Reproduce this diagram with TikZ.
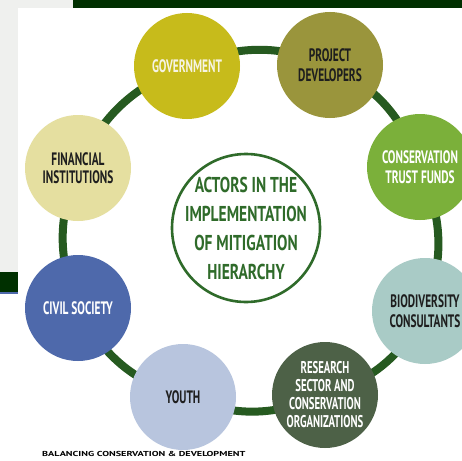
\documentclass[tikz,border=0pt]{standalone}
\usepackage{fontspec}
\usetikzlibrary{backgrounds}
\newfontfamily\cond[FakeStretch=0.63]{PT Sans}
\newfontfamily\hubfont[FakeStretch=0.72]{PT Sans}
\newfontfamily\foot[FakeStretch=1.42]{PT Sans}
\definecolor{greyc}{HTML}{EFF0EE}
\definecolor{bandc}{HTML}{003000}
\definecolor{ringc}{HTML}{265A20}
\definecolor{hubc}{HTML}{2F6B2A}
\definecolor{govc}{HTML}{C7BB1B}
\definecolor{projc}{HTML}{9A953C}
\definecolor{consc}{HTML}{7BB03A}
\definecolor{bioc}{HTML}{A9CBC6}
\definecolor{resc}{HTML}{4D6147}
\definecolor{youthc}{HTML}{B8C5DE}
\definecolor{civc}{HTML}{4E69AB}
\definecolor{finc}{HTML}{E5DFA0}
\definecolor{darktext}{HTML}{1E1E1E}
\definecolor{lighttext}{HTML}{F6F4E4}
\begin{document}
\begin{tikzpicture}[x=1pt,y=1pt,
  actor/.style={circle, minimum size=106pt, inner sep=-20pt, align=center,
    font=\cond\bfseries\fontsize{18}{20}\selectfont},
  ringline/.style={line width=8pt, draw=ringc},
  hubstyle/.style={circle, draw=hubc, line width=2.6pt, fill=white, minimum size=148pt,
    inner sep=-40pt, align=center, text=hubc,
    font=\hubfont\bfseries\fontsize{21.5}{29}\selectfont},
  footstyle/.style={inner sep=0pt, anchor=west, text=black,
    font=\foot\bfseries\fontsize{7.2}{8}\selectfont}
]
\useasboundingbox (0,0) rectangle (462,-460);
\clip (0,0) rectangle (462,-460);

\node[actor, fill=govc, text=lighttext] (gov) at (187,-66) {GOVERNMENT};
\node[actor, fill=projc, text=darktext] (proj) at (330,-65) {PROJECT\\DEVELOPERS};
\node[actor, fill=consc, text=white] (cons) at (420,-167) {CONSERVATION\\TRUST FUNDS};
\node[actor, fill=bioc, text=darktext] (bio) at (425,-311) {BIODIVERSITY\\CONSULTANTS};
\node[actor, fill=resc, text=white, font=\cond\bfseries\fontsize{17}{18}\selectfont] (res) at (325,-395) {RESEARCH\\SECTOR AND\\CONSERVATION\\ORGANIZATIONS};
\node[actor, fill=youthc, text=darktext] (youth) at (183,-397) {YOUTH};
\node[actor, fill=civc, text=white] (civil) at (78,-308) {CIVIL SOCIETY};
\node[actor, fill=finc, text=darktext, font=\cond\bfseries\fontsize{18}{18}\selectfont] (fin) at (78,-168) {FINANCIAL\\INSTITUTIONS};

\node[hubstyle] (hub) at (246,-228) {ACTORS IN THE\\IMPLEMENTATION\\OF MITIGATION\\HIERARCHY};

\node[footstyle] (foot) at (42,-454) {BALANCING CONSERVATION \& DEVELOPMENT};

\begin{scope}[on background layer]
  \fill[white] (0,0) rectangle (462,-460);
  \fill[greyc] (0,0) rectangle (73,-8);
  \fill[greyc] (0,0) rectangle (18,-272);
  \fill[bandc] (73,0) rectangle (462,-8);
  \fill[bandc] (0,-272) rectangle (18,-292);
  \fill[civc] (0,-292) rectangle (18,-294);
  \draw[ringline] (gov.center) to[bend left=22] (proj.center)
    to[bend left=22] (cons.center) to[bend left=22] (bio.center)
    to[bend left=22] (res.center) to[bend left=22] (youth.center)
    to[bend left=22] (civil.center) to[bend left=22] (fin.center)
    to[bend left=22] (gov.center);
\end{scope}
\end{tikzpicture}
\end{document}
